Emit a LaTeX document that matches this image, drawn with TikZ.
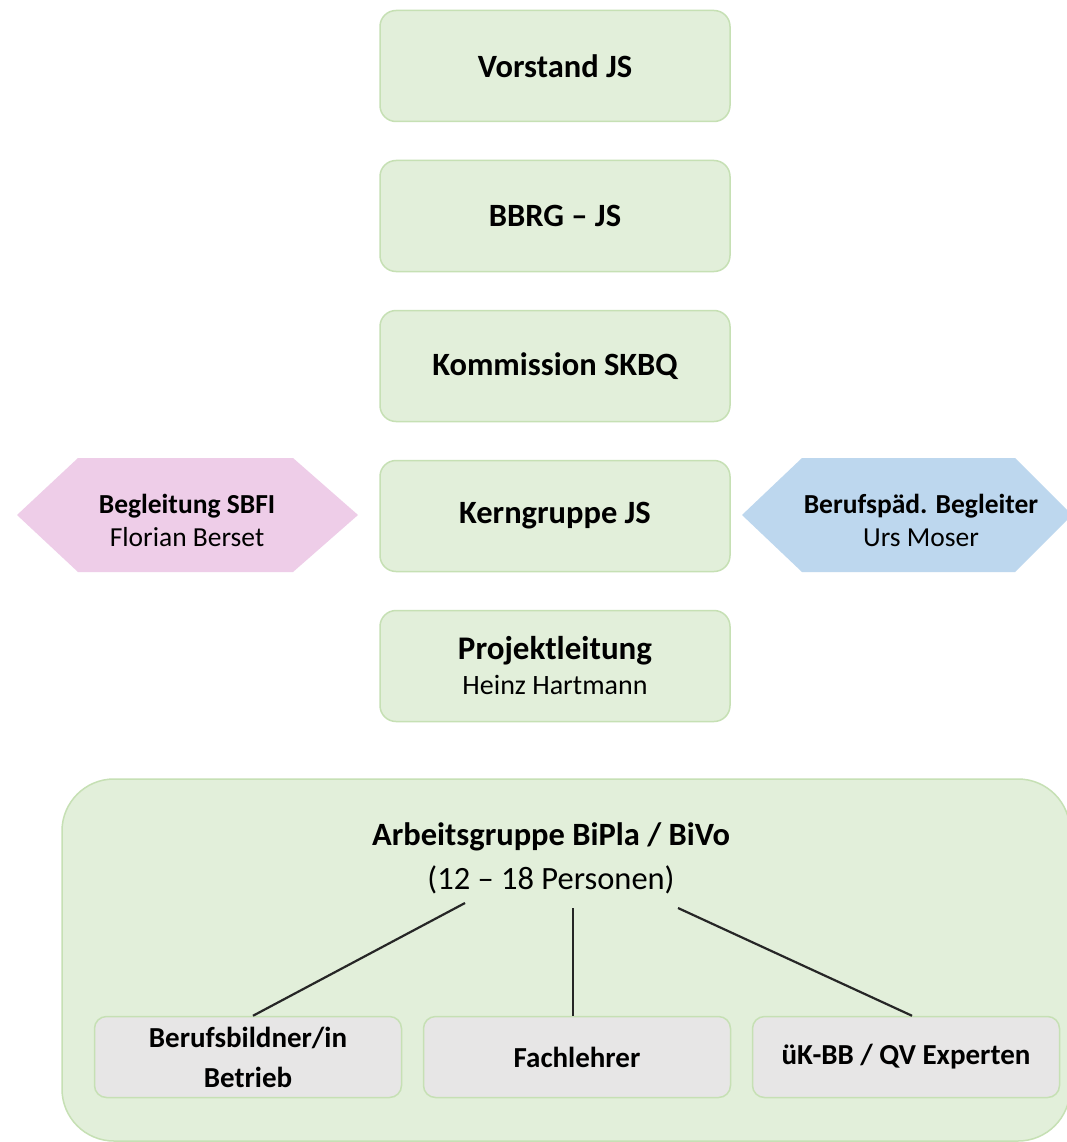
\documentclass[tikz,border=0pt]{standalone}
\usepackage{fontspec}
\setmainfont{Carlito}
\definecolor{gfill}{HTML}{E2EFDA}
\definecolor{gline}{HTML}{C6E0B4}
\definecolor{pinkfill}{HTML}{EECDE8}
\definecolor{bluefill}{HTML}{BDD7EE}
\definecolor{greyfill}{HTML}{E7E6E6}
\tikzset{
  mainbox/.style={draw=gline, line width=1.5pt, fill=gfill, rounded corners=16pt,
    minimum width=350pt, minimum height=111pt, align=center, inner sep=0pt},
  subbox/.style={draw=gline, line width=1.5pt, fill=greyfill, rounded corners=12pt,
    minimum width=307pt, minimum height=81pt, align=center, inner sep=0pt,
    font=\fontsize{29}{40}\selectfont\bfseries},
  big/.style={font=\fontsize{32.5}{38}\selectfont\bfseries},
  hexlab/.style={align=center, inner sep=0pt, font=\fontsize{27.5}{33}\selectfont},
  conn/.style={line width=2.2pt, black!85},
}
\begin{document}
\begin{tikzpicture}[x=1pt,y=-1pt]
\useasboundingbox (0,0) rectangle (1066,1142);
\fill[white] (0,0) rectangle (1066,1142);
% main column
\node[mainbox, big] (vor) at (555,66) {Vorstand JS};
\node[mainbox, big] (bbrg) at (555,216) {BBRG – JS};
\node[mainbox, big] (kom) at (555,366) {Kommission SKBQ};
\node[mainbox, big] (kern) at (555,516) {Kerngruppe JS};
\node[mainbox, font=\fontsize{28}{35}\selectfont] (proj) at (555,666) {{\fontsize{33}{35}\selectfont\bfseries Projektleitung}\\Heinz Hartmann};
% hexagons
\fill[pinkfill] (17,515) -- (78,458) -- (293,458) -- (358,515) -- (293,572) -- (78,572) -- cycle;
\node[hexlab] (sbfi) at (187,520) {\textbf{Begleitung SBFI}\\Florian Berset};
\fill[bluefill] (742,515) -- (802,458) -- (1015,458) -- (1072,515) -- (1015,572) -- (802,572) -- cycle;
\node[hexlab] (bpb) at (921,520) {\textbf{Berufspäd. Begleiter}\\Urs Moser};
% big group box
\filldraw[draw=gline, line width=1.5pt, fill=gfill, rounded corners=52pt] (62,779) rectangle (1070,1141);
\node[align=center, inner sep=0pt, font=\fontsize{32.5}{44}\selectfont] (ag) at (551,858) {\textbf{Arbeitsgruppe BiPla / BiVo}\\(12 – 18 Personen)};
\node[subbox] (b1) at (248,1057) {Berufsbildner/in\\Betrieb};
\node[subbox] (b2) at (577,1057) {Fachlehrer};
\node[subbox] (b3) at (906,1057) {üK-BB / QV Experten};
\coordinate (s1) at (465,903);
\coordinate (s2) at (573,908);
\coordinate (s3) at (678,908);
\draw[conn] (s1) -- ([xshift=5pt]b1.north);
\draw[conn] (s2) -- (s2 |- b2.north);
\draw[conn] (s3) -- ([xshift=6pt]b3.north);
\end{tikzpicture}
\end{document}
